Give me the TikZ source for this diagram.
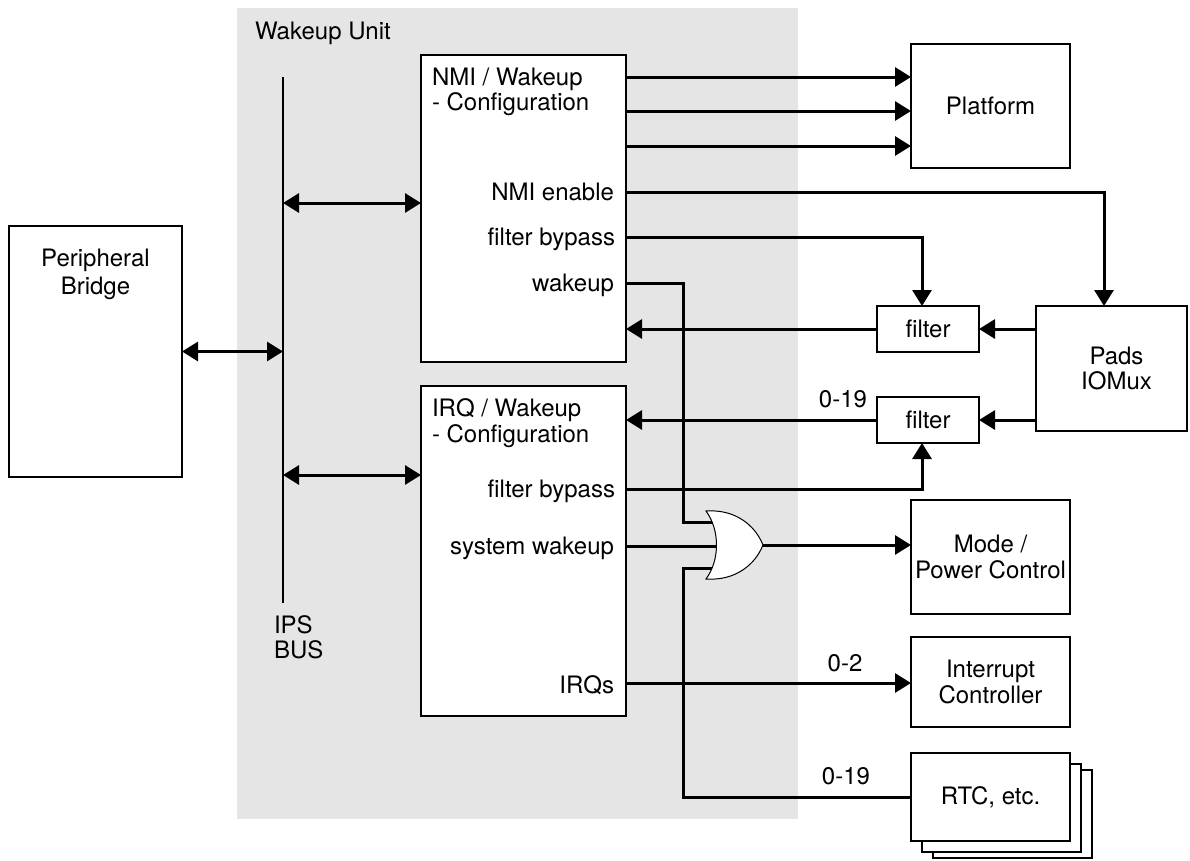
\documentclass[tikz,border=0pt]{standalone}
\usepackage{fontspec}
\setmainfont{TeX Gyre Heros}
\usetikzlibrary{arrows.meta,calc}
\definecolor{unitgray}{RGB}{229,229,229}
\begin{document}
\begin{tikzpicture}[x=1bp,y=-1bp,
  every node/.style={font=\fontsize{24bp}{25.5bp}\selectfont, inner sep=0pt, outer sep=0pt},
  blk/.style={draw=black, line width=2.6bp, fill=white},
  wire/.style={line width=3bp},
  arr/.style={wire,-{Triangle[length=16bp,width=19bp]}},
  darr/.style={wire,{Triangle[length=16bp,width=19bp]}-{Triangle[length=16bp,width=19bp]}},
  lbl/.style={anchor=base east},
  num/.style={anchor=base}]
\useasboundingbox (0,0) rectangle (1190,861);
% wakeup unit background
\node[fill=unitgray, minimum width=561bp, minimum height=811bp] (unit) at (517.5,413.5) {};
\node[anchor=west] (unittxt) at (255,33) {Wakeup Unit};
% peripheral bridge
\node[blk, minimum width=173bp, minimum height=251bp] (bridge) at (95.5,351.5) {};
\node[align=center] (bridgetxt) at (95.5,274) {Peripheral\\[2.5bp]Bridge};
% IPS bus
\coordinate (bustop) at (283,77);
\coordinate (busbot) at (283,603);
\draw[line width=2.8bp] (bustop) -- (busbot);
\node[align=left, anchor=west] (ipstxt) at (274,637) {IPS\\BUS};
% NMI / IRQ configuration blocks
\node[blk, minimum width=205bp, minimum height=307bp] (nmi) at (523.5,208.5) {};
\node[blk, minimum width=205bp, minimum height=330bp] (irq) at (523.5,551) {};
\node[align=left, anchor=west] (nmititle) at (432,92) {NMI / Wakeup\\- Configuration};
\node[align=left, anchor=west] (irqtitle) at (432,423) {IRQ / Wakeup\\- Configuration};
\node[lbl] (nmienl) at (614,200.5) {NMI enable};
\node[lbl] (fb1l) at (615,245.5) {filter bypass};
\node[lbl] (wkl) at (614,291.5) {wakeup};
\node[lbl] (fb2l) at (615,497.5) {filter bypass};
\node[lbl] (swl) at (614,554.5) {system wakeup};
\node[lbl] (irql) at (614,693) {IRQs};
% right-hand blocks
\node[blk, minimum width=159bp, minimum height=124bp] (platform) at (990.5,106) {Platform};
\node[blk, minimum width=102bp, minimum height=46bp] (filter1) at (928,329) {filter};
\node[blk, minimum width=102bp, minimum height=46bp] (filter2) at (928,420) {filter};
\node[blk, minimum width=151bp, minimum height=125bp, align=center, text width=151bp] (pads) at (1111.5,368.5) {\hspace*{10bp}Pads\\\hspace*{10bp}IOMux};
\node[blk, minimum width=159bp, minimum height=114bp, align=center] (mode) at (990.5,557) {Mode /\\Power Control};
\node[blk, minimum width=159bp, minimum height=90bp, align=center] (intc) at (990.5,682) {Interrupt\\Controller};
\node[blk, minimum width=159bp, minimum height=88bp] (rtc3) at (1012.5,814) {};
\node[blk, minimum width=159bp, minimum height=88bp] (rtc2) at (1001.5,808) {};
\node[blk, minimum width=159bp, minimum height=88bp] (rtc) at (990.5,797) {RTC, etc.};
% ports
\coordinate (nmiport) at (421,203);
\coordinate (irqport) at (421,475);
\coordinate (po1) at (626,77);
\coordinate (po2) at (626,111);
\coordinate (po3) at (626,146);
\coordinate (pen) at (626,192);
\coordinate (pfb1) at (626,237);
\coordinate (pwk) at (626,283);
\coordinate (pfb2) at (626,489);
\coordinate (psw) at (626,546);
\coordinate (pirq) at (626,683);
\coordinate (jx) at (683,0);
\coordinate (gin1) at (712,522);
\coordinate (gin2) at (717,546);
\coordinate (gin3) at (712,568);
\coordinate (gout) at (763,545);
% bus connections
\draw[darr] (bridge.east) -- (bridge.east -| bustop);
\draw[darr] (nmiport -| bustop) -- (nmiport);
\draw[darr] (irqport -| bustop) -- (irqport);
% NMI block outputs
\draw[arr] (po1) -- (po1 -| platform.west);
\draw[arr] (po2) -- (po2 -| platform.west);
\draw[arr] (po3) -- (po3 -| platform.west);
\draw[arr] (pen) -| ($(pads.north)+(-7.5,0)$);
\draw[arr] (pfb1) -| ($(filter1.north)+(-6,0)$);
\draw[wire] (pwk) -| (jx |- gin1) -- (gin1);
% filters
\draw[arr] (filter1.west) -- (filter1.west -| nmi.east);
\draw[arr] (filter1.east -| pads.west) -- (filter1.east);
\draw[arr] (filter2.west) -- (filter2.west -| irq.east);
\node[num] (n019a) at (843,407) {0-19};
\draw[arr] (filter2.east -| pads.west) -- (filter2.east);
\draw[arr] (pfb2) -| ($(filter2.south)+(-6,0)$);
% wakeup gate
\draw[wire] (psw) -- (gin2);
\draw[wire] (gin3) -| (jx |- rtc.west) -- (rtc.west);
\node[num] (n019b) at (846,784) {0-19};
\draw[arr] (gout) -- (gout -| mode.west);
\draw[line width=1bp, fill=white] (706,511) .. controls (735,509) and (755,525) .. (763,545)
  .. controls (755,565) and (735,581) .. (706,579)
  .. controls (720,560) and (720,530) .. (706,511) -- cycle;
% IRQs
\draw[arr] (pirq) -- (pirq -| intc.west);
\node[num] (n02) at (845,671) {0-2};
\end{tikzpicture}
\end{document}
